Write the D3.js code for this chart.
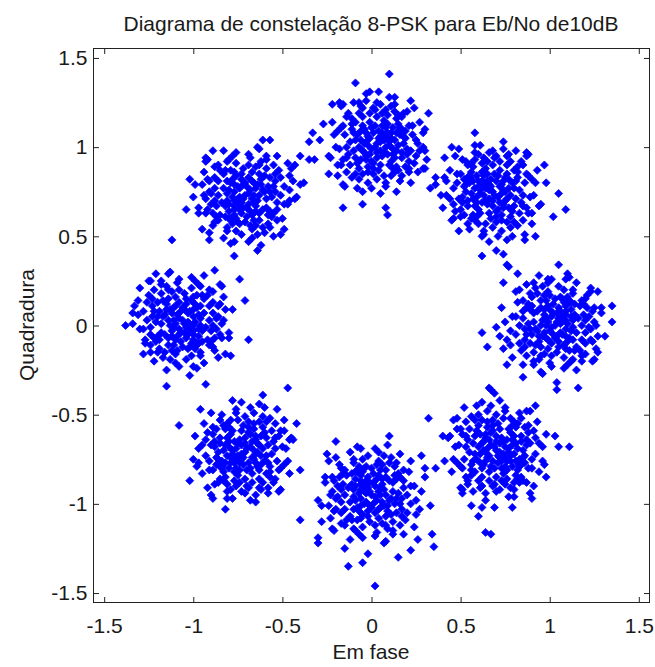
<!DOCTYPE html>
<html>
<head>
<meta charset="utf-8">
<script src="https://cdn.jsdelivr.net/npm/d3@7"></script>
<style>
  body { margin: 0; background: #fff; }
  text { font-family: "Liberation Sans", Arial, Helvetica, sans-serif; fill: #1a1a1a; }
</style>
</head>
<body>
<div id="chart"></div>
<script>
// received 8-PSK symbols, one array per constellation point, [I, Q]
const sym90 = [[0.03,1.02],[0.07,1.04],[-0.01,1.05],[0.05,0.98],[0.00,0.99],[0.10,1.01],[-0.04,1.02],[0.04,1.09],[0.03,0.94],[0.09,1.08],[-0.03,1.08],[0.09,0.96],[-0.03,0.95],[0.13,1.04],[-0.07,1.00],[0.06,1.12],[0.01,0.91],[0.14,0.98],[-0.08,1.07],[0.12,1.11],[-0.05,1.12],[0.11,0.92],[-0.06,0.93],[0.16,1.07],[-0.10,0.98],[0.07,1.15],[-0.02,0.89],[0.17,0.94],[-0.11,1.10],[0.15,1.13],[-0.09,1.14],[0.14,0.89],[-0.07,0.88],[0.18,1.02],[-0.12,1.03],[0.03,1.17],[0.04,0.87],[0.05,1.06],[0.01,1.08],[0.08,1.00],[-0.02,1.01],[0.06,0.95],[0.02,1.12],[0.11,1.05],[-0.05,0.98],[0.15,1.01],[-0.01,1.14],[0.08,1.11],[-0.04,1.10],[0.12,0.96],[0.00,0.92],[0.10,0.90],[-0.09,0.94],[0.19,1.09],[-0.13,0.96],[0.09,1.18],[-0.05,1.17],[0.13,0.86],[0.01,0.85],[0.20,0.99],
  [0.05,1.03],[0.02,1.00],[0.07,0.97],[-0.02,1.06],[0.11,1.08],[-0.04,0.97],[0.08,1.06],[0.00,1.11],[0.13,0.94],[-0.06,1.04],[0.16,1.10],[-0.08,0.91],[0.09,1.13],[-0.03,0.93],[0.17,0.97],[-0.10,1.08],[0.05,0.90],[0.14,1.16],[-0.11,1.16],[0.19,1.05],[-0.14,1.00],[0.06,1.19],[-0.02,0.86],[0.15,0.87],[-0.07,1.19],[0.21,1.12],[-0.15,1.07],[0.11,0.84],[-0.12,0.90],[0.21,0.92],[0.02,1.21],[0.17,1.17],[-0.16,0.93],[0.08,1.21],[-0.09,0.85],[0.22,0.98],[-0.05,1.22],[0.13,1.20],[-0.17,1.11],[0.19,0.89],[0.04,1.05],[-0.01,0.96],[0.10,1.03],[-0.03,1.03],[0.06,1.08],[0.03,0.97],[0.12,0.99],[-0.06,1.09],[0.14,1.08],[0.01,0.88],
  [0.25,1.04],[0.23,1.12],[0.20,1.20],[0.13,1.24],[0.03,1.25],[-0.06,1.23],[-0.14,1.17],[-0.19,1.09],[-0.20,1.00],[-0.17,0.90],[-0.11,0.83],[-0.02,0.80],[0.08,0.78],[0.17,0.84],[0.24,0.91],[0.27,0.98],[0.18,1.06],[0.15,1.18],[-0.01,1.19],[-0.11,1.13],[-0.14,0.94],[-0.05,0.85],[0.12,0.88],[0.20,0.96],[0.29,1.08],[0.10,1.28],[-0.22,1.14],[-0.08,0.77],[0.26,0.86],[-0.16,1.24],[0.22,1.26],[-0.24,0.95],[0.05,0.74],[0.31,0.93],[-0.03,1.30],[-0.19,0.84],[0.16,1.11],[-0.09,1.04],[0.07,0.84],[0.01,1.22],
  [0.23,1.07],[-0.16,1.12],[0.11,1.23],[-0.07,0.82],[0.21,0.88],[-0.18,0.99],[0.05,1.24],[0.18,1.19],[-0.13,1.19],[0.25,0.95],[-0.14,0.86],[0.08,0.80],[0.27,1.14],[-0.21,1.07],[-0.03,1.26],[0.16,0.81],[-0.19,0.90],[0.24,1.22],[0.00,0.77],[0.29,1.00],[-0.10,1.25],[0.13,1.28],[-0.23,0.94],[0.22,0.80],[-0.17,1.23],[-0.05,0.75],[0.30,1.10],[0.03,0.82],[-0.15,0.78],[0.17,1.10],
  [0.10,1.41],[-0.09,1.36],[-0.01,1.31],[0.04,1.31],[0.32,1.19],[-0.27,1.13],[-0.33,1.08],[-0.35,1.03],[-0.45,0.88],[-0.42,0.72],[-0.16,0.66],[-0.05,0.68],[0.08,0.66],[0.09,0.62],[-0.22,1.24],[-0.18,1.25],[-0.35,0.93],[-0.32,0.93],[-0.24,0.85],[-0.16,0.79],[0.14,0.75],[0.21,0.86],[0.29,0.88],[-0.07,1.25],[0.26,1.02],[0.30,0.98],[-0.29,1.04],[-0.40,0.95],[-0.38,0.80]];

const sym45 = [[0.68,0.75],[0.64,0.77],[0.72,0.78],[0.66,0.71],[0.71,0.72],[0.61,0.74],[0.75,0.75],[0.67,0.82],[0.68,0.67],[0.62,0.81],[0.74,0.81],[0.62,0.69],[0.74,0.68],[0.58,0.77],[0.78,0.73],[0.65,0.85],[0.70,0.64],[0.57,0.71],[0.79,0.80],[0.59,0.84],[0.76,0.85],[0.60,0.65],[0.77,0.66],[0.55,0.80],[0.81,0.71],[0.64,0.88],[0.73,0.62],[0.54,0.67],[0.82,0.83],[0.56,0.86],[0.80,0.87],[0.57,0.62],[0.78,0.61],[0.53,0.75],[0.83,0.76],[0.68,0.90],[0.67,0.60],[0.66,0.79],[0.70,0.81],[0.63,0.73],[0.73,0.74],[0.65,0.68],[0.69,0.85],[0.60,0.78],[0.76,0.71],[0.56,0.74],[0.72,0.87],[0.63,0.84],[0.75,0.83],[0.59,0.69],[0.71,0.65],[0.61,0.63],[0.80,0.67],[0.52,0.82],[0.84,0.69],[0.62,0.91],[0.76,0.90],[0.58,0.59],[0.70,0.58],[0.51,0.72],
  [0.66,0.76],[0.69,0.73],[0.64,0.70],[0.73,0.79],[0.60,0.81],[0.75,0.70],[0.63,0.79],[0.71,0.84],[0.58,0.67],[0.77,0.77],[0.55,0.83],[0.79,0.64],[0.62,0.86],[0.74,0.66],[0.54,0.70],[0.81,0.81],[0.66,0.63],[0.57,0.89],[0.82,0.89],[0.52,0.78],[0.85,0.73],[0.65,0.92],[0.73,0.59],[0.56,0.60],[0.78,0.92],[0.50,0.85],[0.86,0.80],[0.60,0.57],[0.83,0.63],[0.50,0.65],[0.69,0.94],[0.54,0.90],[0.87,0.66],[0.63,0.94],[0.80,0.58],[0.49,0.71],[0.76,0.95],[0.58,0.93],[0.88,0.84],[0.52,0.62],[0.67,0.78],[0.72,0.69],[0.61,0.76],[0.74,0.76],[0.65,0.81],[0.68,0.70],[0.59,0.72],[0.77,0.82],[0.57,0.81],[0.70,0.61],
  [0.46,0.77],[0.48,0.85],[0.51,0.93],[0.58,0.97],[0.68,0.98],[0.77,0.96],[0.85,0.90],[0.90,0.82],[0.91,0.73],[0.88,0.63],[0.82,0.56],[0.73,0.53],[0.63,0.51],[0.54,0.57],[0.47,0.64],[0.44,0.71],[0.53,0.79],[0.56,0.91],[0.72,0.92],[0.82,0.86],[0.85,0.67],[0.76,0.58],[0.59,0.61],[0.51,0.69],[0.42,0.81],[0.61,1.01],[0.93,0.87],[0.79,0.50],[0.45,0.59],[0.87,0.97],[0.49,0.99],[0.95,0.68],[0.66,0.47],[0.40,0.66],[0.74,1.03],[0.90,0.57],[0.55,0.84],[0.80,0.77],[0.64,0.57],[0.70,0.95],
  [0.48,0.80],[0.87,0.85],[0.60,0.96],[0.78,0.55],[0.50,0.61],[0.89,0.72],[0.66,0.97],[0.53,0.92],[0.84,0.92],[0.46,0.68],[0.85,0.59],[0.63,0.53],[0.44,0.87],[0.92,0.80],[0.74,0.99],[0.55,0.54],[0.90,0.63],[0.47,0.95],[0.71,0.50],[0.42,0.73],[0.81,0.98],[0.58,1.01],[0.94,0.67],[0.49,0.53],[0.88,0.96],[0.76,0.48],[0.41,0.83],[0.68,0.55],[0.86,0.51],[0.54,0.83],
  [0.58,1.08],[0.41,0.94],[0.30,0.88],[0.36,0.83],[0.39,0.73],[0.46,0.60],[0.87,0.95],[0.97,0.90],[0.98,0.80],[1.05,0.74],[1.09,0.65],[1.02,0.61],[0.92,0.50],[0.62,0.50],[0.62,0.39],[0.70,0.42],[0.77,0.33],[0.82,0.29],[0.74,0.40],[0.86,0.48],[0.36,0.79],[0.45,1.00],[0.33,0.77]];

const sym0 = [[1.03,0.00],[1.05,0.04],[1.06,-0.04],[0.99,0.02],[1.00,-0.03],[1.02,0.07],[1.03,-0.07],[1.10,0.01],[0.95,0.00],[1.09,0.06],[1.09,-0.06],[0.97,0.06],[0.96,-0.06],[1.05,0.10],[1.01,-0.10],[1.13,0.03],[0.92,-0.02],[0.99,0.11],[1.08,-0.11],[1.12,0.09],[1.13,-0.08],[0.93,0.08],[0.94,-0.09],[1.08,0.13],[0.99,-0.13],[1.16,0.04],[0.90,-0.05],[0.95,0.14],[1.11,-0.14],[1.14,0.12],[1.15,-0.12],[0.90,0.11],[0.89,-0.10],[1.03,0.15],[1.04,-0.15],[1.18,0.00],[0.88,0.01],[1.07,0.02],[1.09,-0.02],[1.01,0.05],[1.02,-0.05],[0.96,0.03],[1.13,-0.01],[1.06,0.08],[0.99,-0.08],[1.02,0.12],[1.15,-0.04],[1.12,0.05],[1.11,-0.07],[0.97,0.09],[0.93,-0.03],[0.91,0.07],[0.95,-0.12],[1.10,0.16],[0.97,-0.16],[1.19,0.06],[1.18,-0.08],[0.87,0.10],[0.86,-0.02],[1.00,0.17],
  [1.04,0.02],[1.01,-0.01],[0.98,0.04],[1.07,-0.05],[1.09,0.08],[0.98,-0.07],[1.07,0.05],[1.12,-0.03],[0.95,0.10],[1.05,-0.09],[1.11,0.13],[0.92,-0.11],[1.14,0.06],[0.94,-0.06],[0.98,0.14],[1.09,-0.13],[0.91,0.02],[1.17,0.11],[1.17,-0.14],[1.06,0.16],[1.01,-0.17],[1.20,0.03],[0.87,-0.05],[0.88,0.12],[1.20,-0.10],[1.13,0.18],[1.08,-0.18],[0.85,0.08],[0.91,-0.15],[0.93,0.18],[1.22,-0.01],[1.18,0.14],[0.94,-0.19],[1.22,0.05],[0.86,-0.12],[0.99,0.19],[1.23,-0.08],[1.21,0.10],[1.12,-0.20],[0.90,0.16],[1.06,0.01],[0.97,-0.04],[1.04,0.07],[1.04,-0.06],[1.09,0.03],[0.98,0.00],[1.00,0.09],[1.10,-0.09],[1.09,0.11],[0.89,-0.02],
  [1.05,0.22],[1.13,0.20],[1.21,0.17],[1.25,0.10],[1.26,0.00],[1.24,-0.09],[1.18,-0.17],[1.10,-0.22],[1.01,-0.23],[0.91,-0.20],[0.84,-0.14],[0.81,-0.05],[0.79,0.05],[0.85,0.14],[0.92,0.21],[0.99,0.24],[1.07,0.15],[1.19,0.12],[1.20,-0.04],[1.14,-0.14],[0.95,-0.17],[0.86,-0.08],[0.89,0.09],[0.97,0.17],[1.09,0.26],[1.29,0.07],[1.15,-0.25],[0.78,-0.11],[0.87,0.23],[1.25,-0.19],[1.27,0.19],[0.96,-0.27],[0.75,0.02],[0.94,0.28],[1.31,-0.06],[0.85,-0.22],[1.12,0.13],[1.05,-0.12],[0.85,0.04],[1.23,-0.02],
  [1.08,0.20],[1.13,-0.19],[1.24,0.08],[0.83,-0.10],[0.89,0.18],[1.00,-0.21],[1.25,0.02],[1.20,0.15],[1.20,-0.16],[0.96,0.22],[0.87,-0.17],[0.81,0.05],[1.15,0.24],[1.08,-0.24],[1.27,-0.06],[0.82,0.13],[0.91,-0.22],[1.23,0.21],[0.78,-0.03],[1.01,0.26],[1.26,-0.13],[1.29,0.10],[0.95,-0.26],[0.81,0.19],[1.24,-0.20],[0.76,-0.08],[1.11,0.27],[0.83,0.00],[0.79,-0.18],[1.11,0.14],
  [1.05,0.34],[1.10,0.29],[1.23,0.19],[1.35,0.11],[1.35,0.02],[1.27,-0.15],[1.18,-0.20],[1.16,-0.35],[1.04,-0.32],[1.04,-0.36],[0.85,-0.29],[0.76,-0.22],[0.67,-0.36],[0.65,-0.12],[0.62,-0.04],[0.70,-0.01],[0.72,-0.06],[0.74,-0.13],[0.74,0.24],[0.73,0.10],[0.91,0.24],[0.99,0.26],[0.83,0.20],[0.76,0.34]];

const sym315 = [[0.70,-0.70],[0.74,-0.72],[0.66,-0.73],[0.72,-0.66],[0.67,-0.67],[0.77,-0.69],[0.63,-0.70],[0.71,-0.77],[0.70,-0.62],[0.76,-0.76],[0.64,-0.76],[0.76,-0.64],[0.64,-0.63],[0.80,-0.72],[0.60,-0.68],[0.73,-0.80],[0.68,-0.59],[0.81,-0.66],[0.59,-0.75],[0.79,-0.79],[0.62,-0.80],[0.78,-0.60],[0.61,-0.61],[0.83,-0.75],[0.57,-0.66],[0.74,-0.83],[0.65,-0.57],[0.84,-0.62],[0.56,-0.78],[0.82,-0.81],[0.58,-0.82],[0.81,-0.57],[0.60,-0.56],[0.85,-0.70],[0.55,-0.71],[0.70,-0.85],[0.71,-0.55],[0.72,-0.74],[0.68,-0.76],[0.75,-0.68],[0.65,-0.69],[0.73,-0.63],[0.69,-0.80],[0.78,-0.73],[0.62,-0.66],[0.82,-0.69],[0.66,-0.82],[0.75,-0.79],[0.63,-0.78],[0.79,-0.64],[0.67,-0.60],[0.77,-0.58],[0.58,-0.62],[0.86,-0.77],[0.54,-0.64],[0.76,-0.86],[0.62,-0.85],[0.80,-0.54],[0.68,-0.53],[0.87,-0.67],
  [0.72,-0.71],[0.69,-0.68],[0.74,-0.65],[0.65,-0.74],[0.78,-0.76],[0.63,-0.65],[0.75,-0.74],[0.67,-0.79],[0.80,-0.62],[0.61,-0.72],[0.83,-0.78],[0.59,-0.59],[0.76,-0.81],[0.64,-0.61],[0.84,-0.65],[0.57,-0.76],[0.72,-0.58],[0.81,-0.84],[0.56,-0.84],[0.86,-0.73],[0.53,-0.68],[0.73,-0.87],[0.65,-0.54],[0.82,-0.55],[0.60,-0.87],[0.88,-0.80],[0.52,-0.75],[0.78,-0.52],[0.55,-0.58],[0.88,-0.60],[0.69,-0.89],[0.84,-0.85],[0.51,-0.61],[0.75,-0.89],[0.58,-0.53],[0.89,-0.66],[0.62,-0.90],[0.80,-0.88],[0.50,-0.79],[0.86,-0.57],[0.71,-0.73],[0.66,-0.64],[0.77,-0.71],[0.64,-0.71],[0.73,-0.76],[0.70,-0.65],[0.79,-0.67],[0.61,-0.77],[0.81,-0.76],[0.68,-0.56],
  [0.92,-0.72],[0.90,-0.80],[0.87,-0.88],[0.80,-0.92],[0.70,-0.93],[0.61,-0.91],[0.53,-0.85],[0.48,-0.77],[0.47,-0.68],[0.50,-0.58],[0.56,-0.51],[0.65,-0.48],[0.75,-0.46],[0.84,-0.52],[0.91,-0.59],[0.94,-0.66],[0.85,-0.74],[0.82,-0.86],[0.66,-0.87],[0.56,-0.81],[0.53,-0.62],[0.62,-0.53],[0.79,-0.56],[0.87,-0.64],[0.96,-0.76],[0.77,-0.96],[0.45,-0.82],[0.59,-0.45],[0.93,-0.54],[0.51,-0.92],[0.89,-0.94],[0.43,-0.63],[0.72,-0.42],[0.98,-0.61],[0.64,-0.98],[0.48,-0.52],[0.83,-0.79],[0.58,-0.72],[0.74,-0.52],[0.68,-0.90],
  [0.90,-0.75],[0.51,-0.80],[0.78,-0.91],[0.60,-0.50],[0.88,-0.56],[0.49,-0.67],[0.72,-0.92],[0.85,-0.87],[0.54,-0.87],[0.92,-0.63],[0.53,-0.54],[0.75,-0.48],[0.94,-0.82],[0.46,-0.75],[0.64,-0.94],[0.83,-0.49],[0.48,-0.58],[0.91,-0.90],[0.67,-0.45],[0.96,-0.68],[0.57,-0.93],[0.80,-0.96],[0.44,-0.62],[0.89,-0.48],[0.50,-0.91],[0.62,-0.43],[0.97,-0.78],[0.70,-0.50],[0.52,-0.46],[0.84,-0.78],
  [0.66,-0.35],[0.69,-0.38],[0.32,-0.52],[0.46,-0.53],[0.40,-0.62],[0.36,-0.80],[0.41,-0.76],[0.28,-0.73],[0.30,-0.85],[0.92,-0.45],[0.87,-0.48],[1.03,-0.62],[1.05,-0.68],[1.11,-0.68],[0.98,-0.85],[0.90,-0.97],[0.79,-1.02],[0.69,-1.02],[0.62,-1.02],[0.60,-1.07],[0.51,-0.94],[0.56,-1.01],[0.64,-1.16],[0.67,-1.17],[0.54,-0.89],[0.83,-0.88]];

const sym270 = [[0.00,-0.95],[-0.02,-0.91],[-0.03,-0.99],[0.04,-0.93],[0.03,-0.98],[0.01,-0.88],[0.00,-1.02],[-0.07,-0.94],[0.08,-0.95],[-0.06,-0.89],[-0.06,-1.01],[0.06,-0.89],[0.07,-1.01],[-0.02,-0.85],[0.02,-1.05],[-0.10,-0.92],[0.11,-0.97],[0.04,-0.84],[-0.05,-1.06],[-0.09,-0.86],[-0.10,-1.03],[0.10,-0.87],[0.09,-1.04],[-0.05,-0.82],[0.04,-1.08],[-0.13,-0.91],[0.13,-1.00],[0.08,-0.81],[-0.08,-1.09],[-0.11,-0.83],[-0.12,-1.07],[0.13,-0.84],[0.14,-1.05],[0.00,-0.80],[-0.01,-1.10],[-0.15,-0.95],[0.15,-0.94],[-0.04,-0.93],[-0.06,-0.97],[0.02,-0.90],[0.01,-1.00],[0.07,-0.92],[-0.10,-0.96],[-0.03,-0.87],[0.04,-1.03],[0.01,-0.83],[-0.12,-0.99],[-0.09,-0.90],[-0.08,-1.02],[0.06,-0.86],[0.10,-0.98],[0.12,-0.88],[0.08,-1.07],[-0.07,-0.79],[0.06,-1.11],[-0.16,-0.89],[-0.15,-1.03],[0.16,-0.85],[0.17,-0.97],[0.03,-0.78],
  [-0.01,-0.93],[0.02,-0.96],[0.05,-0.91],[-0.04,-1.00],[-0.06,-0.87],[0.05,-1.02],[-0.04,-0.90],[-0.09,-0.98],[0.08,-0.85],[-0.02,-1.04],[-0.08,-0.82],[0.11,-1.06],[-0.11,-0.89],[0.09,-1.01],[0.05,-0.81],[-0.06,-1.08],[0.12,-0.93],[-0.14,-0.84],[-0.14,-1.09],[-0.03,-0.79],[0.02,-1.12],[-0.17,-0.92],[0.16,-1.00],[0.15,-0.83],[-0.17,-1.05],[-0.10,-0.77],[-0.05,-1.13],[0.18,-0.87],[0.12,-1.10],[0.10,-0.77],[-0.19,-0.96],[-0.15,-0.81],[0.09,-1.14],[-0.19,-0.90],[0.17,-1.07],[0.04,-0.76],[-0.20,-1.03],[-0.18,-0.85],[-0.09,-1.15],[0.13,-0.79],[-0.03,-0.94],[0.06,-0.99],[-0.01,-0.88],[-0.01,-1.01],[-0.06,-0.92],[0.05,-0.95],[0.03,-0.86],[-0.07,-1.04],[-0.06,-0.84],[0.14,-0.97],
  [-0.02,-0.73],[-0.10,-0.75],[-0.18,-0.78],[-0.22,-0.85],[-0.23,-0.95],[-0.21,-1.04],[-0.15,-1.12],[-0.07,-1.17],[0.02,-1.18],[0.12,-1.15],[0.19,-1.09],[0.22,-1.00],[0.24,-0.90],[0.18,-0.81],[0.11,-0.74],[0.04,-0.71],[-0.04,-0.80],[-0.16,-0.83],[-0.17,-0.99],[-0.11,-1.09],[0.08,-1.12],[0.17,-1.03],[0.14,-0.86],[0.06,-0.78],[-0.06,-0.69],[-0.26,-0.88],[-0.12,-1.20],[0.25,-1.06],[0.16,-0.72],[-0.22,-1.14],[-0.24,-0.76],[0.07,-1.22],[0.28,-0.93],[0.09,-0.67],[-0.28,-1.01],[0.18,-1.17],[-0.09,-0.82],[-0.02,-1.07],[0.18,-0.91],[-0.20,-0.97],
  [-0.05,-0.75],[-0.10,-1.14],[-0.21,-0.87],[0.20,-1.05],[0.14,-0.77],[0.03,-1.16],[-0.22,-0.93],[-0.17,-0.80],[-0.17,-1.11],[0.07,-0.73],[0.16,-1.12],[0.22,-0.90],[-0.12,-0.71],[-0.05,-1.19],[-0.24,-1.01],[0.21,-0.82],[0.12,-1.17],[-0.20,-0.74],[0.25,-0.98],[0.02,-0.69],[-0.23,-1.08],[-0.26,-0.85],[0.08,-1.21],[0.22,-0.76],[-0.21,-1.15],[0.27,-1.03],[-0.08,-0.68],[0.20,-0.95],[0.24,-1.13],[-0.08,-0.81],
  [-0.13,-1.35],[-0.05,-1.33],[0.02,-1.46],[0.22,-1.26],[0.26,-1.20],[-0.28,-1.10],[-0.30,-0.98],[-0.25,-0.72],[-0.20,-0.65],[0.10,-0.62],[0.30,-0.80],[0.33,-1.01],[0.34,-1.17],[0.35,-1.24],[-0.15,-1.25],[-0.30,-1.22],[-0.02,-1.28],[0.15,-1.30],[-0.40,-1.09],[-0.30,-1.19]];

const sym225 = [[-0.71,-0.71],[-0.75,-0.73],[-0.67,-0.74],[-0.73,-0.67],[-0.68,-0.68],[-0.78,-0.70],[-0.64,-0.71],[-0.72,-0.78],[-0.71,-0.63],[-0.77,-0.77],[-0.65,-0.77],[-0.77,-0.65],[-0.65,-0.64],[-0.81,-0.73],[-0.61,-0.69],[-0.74,-0.81],[-0.69,-0.60],[-0.82,-0.67],[-0.60,-0.76],[-0.80,-0.80],[-0.63,-0.81],[-0.79,-0.61],[-0.62,-0.62],[-0.84,-0.76],[-0.58,-0.67],[-0.75,-0.84],[-0.66,-0.58],[-0.85,-0.63],[-0.57,-0.79],[-0.83,-0.82],[-0.59,-0.83],[-0.82,-0.58],[-0.61,-0.57],[-0.86,-0.71],[-0.56,-0.72],[-0.71,-0.86],[-0.72,-0.56],[-0.73,-0.75],[-0.69,-0.77],[-0.76,-0.69],[-0.66,-0.70],[-0.74,-0.64],[-0.70,-0.81],[-0.79,-0.74],[-0.63,-0.67],[-0.83,-0.70],[-0.67,-0.83],[-0.76,-0.80],[-0.64,-0.79],[-0.80,-0.65],[-0.68,-0.61],[-0.78,-0.59],[-0.59,-0.63],[-0.87,-0.78],[-0.55,-0.65],[-0.77,-0.87],[-0.63,-0.86],[-0.81,-0.55],[-0.69,-0.54],[-0.88,-0.68],
  [-0.73,-0.72],[-0.70,-0.69],[-0.75,-0.66],[-0.66,-0.75],[-0.79,-0.77],[-0.64,-0.66],[-0.76,-0.75],[-0.68,-0.80],[-0.81,-0.63],[-0.62,-0.73],[-0.84,-0.79],[-0.60,-0.60],[-0.77,-0.82],[-0.65,-0.62],[-0.85,-0.66],[-0.58,-0.77],[-0.73,-0.59],[-0.82,-0.85],[-0.57,-0.85],[-0.87,-0.74],[-0.54,-0.69],[-0.74,-0.88],[-0.66,-0.55],[-0.83,-0.56],[-0.61,-0.88],[-0.89,-0.81],[-0.53,-0.76],[-0.79,-0.53],[-0.56,-0.59],[-0.89,-0.61],[-0.70,-0.90],[-0.85,-0.86],[-0.52,-0.62],[-0.76,-0.90],[-0.59,-0.54],[-0.90,-0.67],[-0.63,-0.91],[-0.81,-0.89],[-0.51,-0.80],[-0.87,-0.58],[-0.72,-0.74],[-0.67,-0.65],[-0.78,-0.72],[-0.65,-0.72],[-0.74,-0.77],[-0.71,-0.66],[-0.80,-0.68],[-0.62,-0.78],[-0.82,-0.77],[-0.69,-0.57],
  [-0.93,-0.73],[-0.91,-0.81],[-0.88,-0.89],[-0.81,-0.93],[-0.71,-0.94],[-0.62,-0.92],[-0.54,-0.86],[-0.49,-0.78],[-0.48,-0.69],[-0.51,-0.59],[-0.57,-0.52],[-0.66,-0.49],[-0.76,-0.47],[-0.85,-0.53],[-0.92,-0.60],[-0.95,-0.67],[-0.86,-0.75],[-0.83,-0.87],[-0.67,-0.88],[-0.57,-0.82],[-0.54,-0.63],[-0.63,-0.54],[-0.80,-0.57],[-0.88,-0.65],[-0.97,-0.77],[-0.78,-0.97],[-0.46,-0.83],[-0.60,-0.46],[-0.94,-0.55],[-0.52,-0.93],[-0.90,-0.95],[-0.44,-0.64],[-0.73,-0.43],[-0.99,-0.62],[-0.65,-0.99],[-0.49,-0.53],[-0.84,-0.80],[-0.59,-0.73],[-0.75,-0.53],[-0.69,-0.91],
  [-0.91,-0.76],[-0.52,-0.81],[-0.79,-0.92],[-0.61,-0.51],[-0.89,-0.57],[-0.50,-0.68],[-0.73,-0.93],[-0.86,-0.88],[-0.55,-0.88],[-0.93,-0.64],[-0.54,-0.55],[-0.76,-0.49],[-0.95,-0.83],[-0.47,-0.76],[-0.65,-0.95],[-0.84,-0.50],[-0.49,-0.59],[-0.92,-0.91],[-0.68,-0.46],[-0.97,-0.69],[-0.58,-0.94],[-0.81,-0.97],[-0.45,-0.63],[-0.90,-0.49],[-0.51,-0.92],[-0.63,-0.44],[-0.98,-0.79],[-0.71,-0.51],[-0.53,-0.47],[-0.85,-0.79],
  [-0.47,-0.35],[-0.61,-0.39],[-0.82,-1.03],[-1.02,-0.87],[-1.08,-0.56],[-0.96,-0.47],[-0.40,-0.81],[-0.46,-0.64],[-0.78,-0.42],[-0.68,-0.98],[-0.58,-0.91],[-0.89,-0.97],[-0.42,-0.55],[-1.00,-0.75]];

const sym180 = [[-1.06,0.03],[-1.04,-0.01],[-1.03,0.07],[-1.10,0.01],[-1.09,0.06],[-1.07,-0.04],[-1.06,0.10],[-0.99,0.02],[-1.14,0.03],[-1.00,-0.03],[-1.00,0.09],[-1.12,-0.03],[-1.13,0.09],[-1.04,-0.07],[-1.08,0.13],[-0.96,0.00],[-1.17,0.05],[-1.10,-0.08],[-1.01,0.14],[-0.97,-0.06],[-0.96,0.11],[-1.16,-0.05],[-1.15,0.12],[-1.01,-0.10],[-1.10,0.16],[-0.93,-0.01],[-1.19,0.08],[-1.14,-0.11],[-0.98,0.17],[-0.95,-0.09],[-0.94,0.15],[-1.19,-0.08],[-1.20,0.13],[-1.06,-0.12],[-1.05,0.18],[-0.91,0.03],[-1.21,0.02],[-1.02,0.01],[-1.00,0.05],[-1.08,-0.02],[-1.07,0.08],[-1.13,0.00],[-0.96,0.04],[-1.03,-0.05],[-1.10,0.11],[-1.07,-0.09],[-0.94,0.07],[-0.97,-0.02],[-0.98,0.10],[-1.12,-0.06],[-1.16,0.06],[-1.18,-0.04],[-1.14,0.15],[-0.99,-0.13],[-1.12,0.19],[-0.90,-0.03],[-0.91,0.11],[-1.22,-0.07],[-1.23,0.05],[-1.09,-0.14],
  [-1.05,0.01],[-1.08,0.04],[-1.11,-0.01],[-1.02,0.08],[-1.00,-0.05],[-1.11,0.10],[-1.02,-0.02],[-0.97,0.06],[-1.14,-0.07],[-1.04,0.12],[-0.98,-0.10],[-1.17,0.14],[-0.95,-0.03],[-1.15,0.09],[-1.11,-0.11],[-1.00,0.16],[-1.18,0.01],[-0.92,-0.08],[-0.92,0.17],[-1.03,-0.13],[-1.08,0.20],[-0.89,0.00],[-1.22,0.08],[-1.21,-0.09],[-0.89,0.13],[-0.96,-0.15],[-1.01,0.21],[-1.24,-0.05],[-1.18,0.18],[-1.16,-0.15],[-0.87,0.04],[-0.91,-0.11],[-1.15,0.22],[-0.87,-0.02],[-1.23,0.15],[-1.10,-0.16],[-0.86,0.11],[-0.88,-0.07],[-0.97,0.23],[-1.19,-0.13],[-1.03,0.02],[-1.12,0.07],[-1.05,-0.04],[-1.05,0.09],[-1.00,0.00],[-1.11,0.03],[-1.09,-0.06],[-0.99,0.12],[-1.00,-0.08],[-1.20,0.05],
  [-1.04,-0.19],[-0.96,-0.17],[-0.88,-0.14],[-0.84,-0.07],[-0.83,0.03],[-0.85,0.12],[-0.91,0.20],[-0.99,0.25],[-1.08,0.26],[-1.18,0.23],[-1.25,0.17],[-1.28,0.08],[-1.30,-0.02],[-1.24,-0.11],[-1.17,-0.18],[-1.10,-0.21],[-1.02,-0.12],[-0.90,-0.09],[-0.89,0.07],[-0.95,0.17],[-1.14,0.20],[-1.23,0.11],[-1.20,-0.06],[-1.12,-0.14],[-1.00,-0.23],[-0.80,-0.04],[-0.94,0.28],[-1.31,0.14],[-1.22,-0.20],[-0.84,0.22],[-0.82,-0.16],[-1.13,0.30],[-1.34,0.01],[-1.15,-0.25],[-0.78,0.09],[-1.24,0.25],[-0.97,-0.10],[-1.04,0.15],[-1.24,-0.01],[-0.86,0.05],
  [-1.01,-0.17],[-0.96,0.22],[-0.85,-0.05],[-1.26,0.13],[-1.20,-0.15],[-1.09,0.24],[-0.84,0.01],[-0.89,-0.12],[-0.89,0.19],[-1.13,-0.19],[-1.22,0.20],[-1.28,-0.02],[-0.94,-0.21],[-1.01,0.27],[-0.82,0.09],[-1.27,-0.10],[-1.18,0.25],[-0.86,-0.18],[-1.31,0.06],[-1.08,-0.23],[-0.83,0.16],[-0.80,-0.07],[-1.14,0.29],[-1.28,-0.16],[-0.85,0.23],[-1.33,0.11],[-0.98,-0.24],[-1.26,0.03],[-1.30,0.21],[-0.98,-0.11],
  [-1.34,0.07],[-1.12,0.48],[-1.21,0.29],[-1.25,0.25],[-1.27,-0.08],[-1.24,-0.15],[-0.71,0.14],[-0.69,-0.08],[-0.93,-0.33],[-1.02,-0.28],[-0.79,-0.17],[-0.74,0.26],[-0.88,0.31],[-1.15,-0.34],[-1.38,0.00]];

const sym135 = [[-0.71,0.73],[-0.73,0.69],[-0.74,0.77],[-0.67,0.71],[-0.68,0.76],[-0.70,0.66],[-0.71,0.80],[-0.78,0.72],[-0.63,0.73],[-0.77,0.67],[-0.77,0.79],[-0.65,0.67],[-0.64,0.79],[-0.73,0.63],[-0.69,0.83],[-0.81,0.70],[-0.60,0.75],[-0.67,0.62],[-0.76,0.84],[-0.80,0.64],[-0.81,0.81],[-0.61,0.65],[-0.62,0.82],[-0.76,0.60],[-0.67,0.86],[-0.84,0.69],[-0.58,0.78],[-0.63,0.59],[-0.79,0.87],[-0.82,0.61],[-0.83,0.85],[-0.58,0.62],[-0.57,0.83],[-0.71,0.58],[-0.72,0.88],[-0.86,0.73],[-0.56,0.72],[-0.75,0.71],[-0.77,0.75],[-0.69,0.68],[-0.70,0.78],[-0.64,0.70],[-0.81,0.74],[-0.74,0.65],[-0.67,0.81],[-0.70,0.61],[-0.83,0.77],[-0.80,0.68],[-0.79,0.80],[-0.65,0.64],[-0.61,0.76],[-0.59,0.66],[-0.63,0.85],[-0.78,0.57],[-0.65,0.89],[-0.87,0.67],[-0.86,0.81],[-0.55,0.63],[-0.54,0.75],[-0.68,0.56],
  [-0.72,0.71],[-0.69,0.74],[-0.66,0.69],[-0.75,0.78],[-0.77,0.65],[-0.66,0.80],[-0.75,0.68],[-0.80,0.76],[-0.63,0.63],[-0.73,0.82],[-0.79,0.60],[-0.60,0.84],[-0.82,0.67],[-0.62,0.79],[-0.66,0.59],[-0.77,0.86],[-0.59,0.71],[-0.85,0.62],[-0.85,0.87],[-0.74,0.57],[-0.69,0.90],[-0.88,0.70],[-0.55,0.78],[-0.56,0.61],[-0.88,0.83],[-0.81,0.55],[-0.76,0.91],[-0.53,0.65],[-0.59,0.88],[-0.61,0.55],[-0.90,0.74],[-0.86,0.59],[-0.62,0.92],[-0.90,0.68],[-0.54,0.85],[-0.67,0.54],[-0.91,0.81],[-0.89,0.63],[-0.80,0.93],[-0.58,0.57],[-0.74,0.72],[-0.65,0.77],[-0.72,0.66],[-0.72,0.79],[-0.77,0.70],[-0.66,0.73],[-0.68,0.64],[-0.78,0.82],[-0.77,0.62],[-0.57,0.75],
  [-0.73,0.51],[-0.81,0.53],[-0.89,0.56],[-0.93,0.63],[-0.94,0.73],[-0.92,0.82],[-0.86,0.90],[-0.78,0.95],[-0.69,0.96],[-0.59,0.93],[-0.52,0.87],[-0.49,0.78],[-0.47,0.68],[-0.53,0.59],[-0.60,0.52],[-0.67,0.49],[-0.75,0.58],[-0.87,0.61],[-0.88,0.77],[-0.82,0.87],[-0.63,0.90],[-0.54,0.81],[-0.57,0.64],[-0.65,0.56],[-0.77,0.47],[-0.97,0.66],[-0.83,0.98],[-0.46,0.84],[-0.55,0.50],[-0.93,0.92],[-0.95,0.54],[-0.64,1.00],[-0.43,0.71],[-0.62,0.45],[-0.99,0.79],[-0.53,0.95],[-0.80,0.60],[-0.73,0.85],[-0.53,0.69],[-0.91,0.75],
  [-0.76,0.53],[-0.81,0.92],[-0.92,0.65],[-0.51,0.83],[-0.57,0.55],[-0.68,0.94],[-0.93,0.71],[-0.88,0.58],[-0.88,0.89],[-0.64,0.51],[-0.55,0.90],[-0.49,0.68],[-0.83,0.49],[-0.76,0.97],[-0.95,0.79],[-0.50,0.60],[-0.59,0.95],[-0.91,0.52],[-0.46,0.76],[-0.69,0.47],[-0.94,0.86],[-0.97,0.63],[-0.63,0.99],[-0.49,0.54],[-0.92,0.93],[-0.44,0.81],[-0.79,0.46],[-0.51,0.73],[-0.47,0.91],[-0.79,0.59],
  [-0.61,1.04],[-0.57,1.04],[-0.89,0.98],[-0.93,0.94],[-1.02,0.82],[-1.04,0.65],[-0.43,0.90],[-0.40,0.79],[-0.46,0.70],[-0.51,0.51],[-0.77,0.39],[-0.91,0.48],[-0.64,0.42],[-1.00,0.72]];

const xTicks = [-1.5, -1, -0.5, 0, 0.5, 1, 1.5];
const yTicks = [-1.5, -1, -0.5, 0, 0.5, 1, 1.5];
const tickLabels = ['-1.5', '-1', '-0.5', '0', '0.5', '1', '1.5'];
const titleText = 'Diagrama de constelação 8-PSK para Eb/No de10dB';
const xTitle = 'Em fase';
const yTitle = 'Quadradura';

const width = 655, height = 667;
const margin = { top: 48, left: 93 };
const w = 556, h = 554;
const fontSize = 21;

const svg = d3.select('#chart').append('svg')
  .attr('width', width)
  .attr('height', height);

const g = svg.append('g')
  .attr('transform', `translate(${margin.left},${margin.top})`);

const x = d3.scaleLinear().domain([-1.56, 1.56]).range([0.5, w + 0.5]);
const y = d3.scaleLinear().domain([-1.553, 1.553]).range([h + 0.5, 0.5]);

const fmt = d => tickLabels[xTicks.indexOf(d)];

// points first, box and ticks on top like matlab
const points = [sym90, sym45, sym0, sym315, sym270, sym225, sym180, sym135].flat();
const diamond = d3.symbol().type(d3.symbolSquare).size(32)();

g.append('g')
  .selectAll('path')
  .data(points)
  .enter().append('path')
  .attr('d', diamond)
  .attr('transform', d => `translate(${x(d[0])},${y(d[1])}) rotate(45)`)
  .attr('fill', '#0000ff')
  .attr('stroke', '#0000ff')
  .attr('stroke-width', 0.7);

const tick = 5.5;
const styleAxis = sel => {
  sel.select('.domain').remove();
  sel.selectAll('line').attr('stroke', '#222');
  sel.selectAll('text').attr('font-size', fontSize).attr('fill', '#1a1a1a')
    .style('font-family', '"Liberation Sans", Arial, sans-serif');
};

g.append('g')
  .attr('transform', `translate(0,${h + 0.5})`)
  .call(d3.axisBottom(x).tickValues(xTicks).tickFormat(fmt).tickSizeInner(-tick).tickSizeOuter(0).tickPadding(16))
  .call(styleAxis);

g.append('g')
  .attr('transform', 'translate(0,0.5)')
  .call(d3.axisTop(x).tickValues(xTicks).tickFormat('').tickSizeInner(-tick).tickSizeOuter(0))
  .call(styleAxis);

g.append('g')
  .attr('transform', 'translate(0.5,0)')
  .call(d3.axisLeft(y).tickValues(yTicks).tickFormat(fmt).tickSizeInner(-tick).tickSizeOuter(0).tickPadding(6))
  .call(styleAxis);

g.append('g')
  .attr('transform', `translate(${w + 0.5},0)`)
  .call(d3.axisRight(y).tickValues(yTicks).tickFormat('').tickSizeInner(-tick).tickSizeOuter(0))
  .call(styleAxis);

g.append('rect')
  .attr('x', 0.5).attr('y', 0.5)
  .attr('width', w).attr('height', h)
  .attr('fill', 'none')
  .attr('stroke', '#222')
  .attr('stroke-width', 1);

svg.append('text')
  .attr('x', margin.left + w / 2)
  .attr('y', 31)
  .attr('text-anchor', 'middle')
  .attr('font-size', fontSize)
  .text(titleText);

svg.append('text')
  .attr('x', margin.left + w / 2)
  .attr('y', 659)
  .attr('text-anchor', 'middle')
  .attr('font-size', fontSize)
  .text(xTitle);

svg.append('text')
  .attr('transform', `translate(34,${margin.top + h / 2}) rotate(-90)`)
  .attr('text-anchor', 'middle')
  .attr('font-size', fontSize)
  .text(yTitle);
</script>
</body>
</html>
